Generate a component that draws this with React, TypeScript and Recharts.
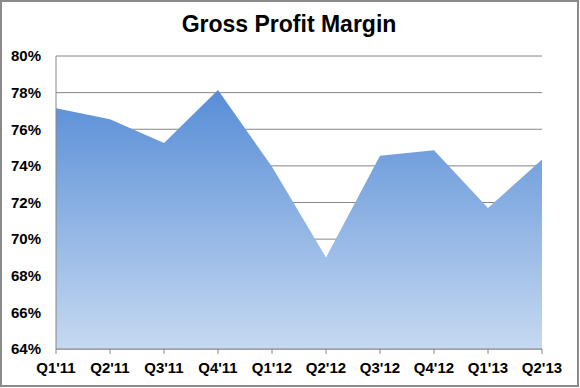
import { AreaChart, Area, XAxis, YAxis, CartesianGrid } from "recharts"

const quarters = ["Q1'11", "Q2'11", "Q3'11", "Q4'11", "Q1'12", "Q2'12", "Q3'12", "Q4'12", "Q1'13", "Q2'13"]
const margin = [77.15, 76.55, 75.25, 78.15, 73.95, 69.0, 74.55, 74.85, 71.7, 74.35]
const yTicks = [64, 66, 68, 70, 72, 74, 76, 78, 80]

const data = quarters.map((q, i) => ({ q, margin: margin[i] }))

const font = "'Liberation Sans', Arial, sans-serif"
const gray = "#868686"

export default function App() {
	return (
		<div style={{ position: "fixed", left: 0, top: 0, width: 580, height: 388, background: "#fff" }}>
			<div
				style={{
					position: "absolute",
					left: 0,
					top: 0,
					width: 579,
					height: 387,
					boxSizing: "border-box",
					border: "2px solid #8a8a8a",
				}}
			/>
			<div
				style={{
					position: "absolute",
					left: 0,
					width: 578,
					top: 11,
					textAlign: "center",
					fontFamily: font,
					fontWeight: "bold",
					fontSize: 23,
					lineHeight: "26px",
					color: "#000",
				}}
			>
				Gross Profit Margin
			</div>
			<AreaChart width={580} height={388} data={data} margin={{ top: 56, right: 38, left: 0, bottom: 9 }}>
				<defs>
					<linearGradient id="fillBlue" x1="0" y1="0" x2="0" y2="1">
						<stop offset="0%" stopColor="#578dd6" />
						<stop offset="100%" stopColor="#c6d9f1" />
					</linearGradient>
				</defs>
				<CartesianGrid vertical={false} stroke={gray} />
				<XAxis
					dataKey="q"
					height={30}
					stroke={gray}
					tickSize={5}
					tickMargin={8}
					interval={0}
					tick={{ fill: "#000", fontFamily: font, fontWeight: "bold", fontSize: 15 }}
				/>
				<YAxis
					width={56}
					domain={[64, 80]}
					ticks={yTicks}
					stroke={gray}
					tickLine={false}
					tickSize={0}
					tickMargin={15}
					tickFormatter={(v) => `${v}%`}
					tick={{ fill: "#000", fontFamily: font, fontWeight: "bold", fontSize: 15 }}
				/>
				<Area
					type="linear"
					dataKey="margin"
					stroke="none"
					fill="url(#fillBlue)"
					fillOpacity={1}
					isAnimationActive={false}
				/>
			</AreaChart>
		</div>
	)
}
